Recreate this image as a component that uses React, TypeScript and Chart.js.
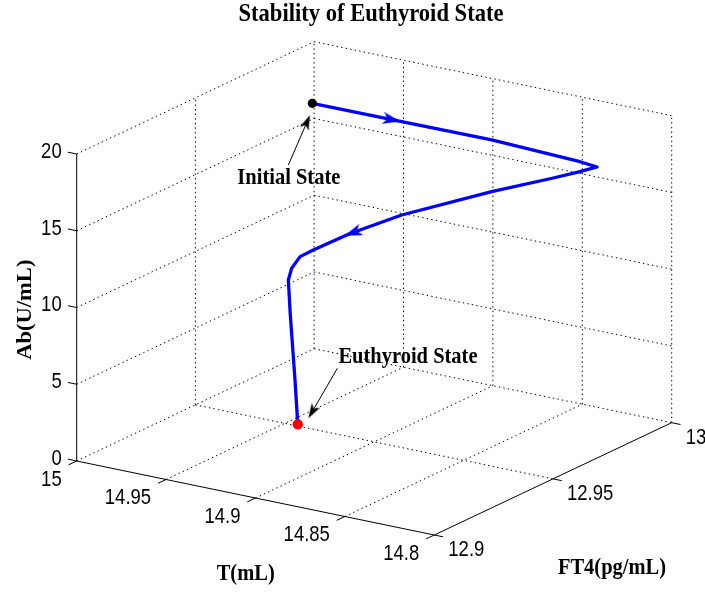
import React, { useEffect, useRef } from "react";
import { Chart, registerables } from "chart.js";

Chart.register(...registerables);

// ---------------- data ----------------
const T_TICKS = [15, 14.95, 14.9, 14.85, 14.8];
const T_TICK_LABELS = ["15", "14.95", "14.9", "14.85", "14.8"];
const FT4_TICKS = [12.9, 12.95, 13];
const FT4_TICK_LABELS = ["12.9", "12.95", "13"];
const AB_TICKS = [0, 5, 10, 15, 20];
const AB_TICK_LABELS = ["0", "5", "10", "15", "20"];

// trajectory (T, FT4, Ab) from the initial state to the euthyroid state
const trajT = [14.95, 14.9064, 14.8627, 14.8193, 14.8121, 14.8187, 14.8289, 14.8505, 14.8789, 14.8904, 14.894, 14.901, 14.9044, 14.9069, 14.9087, 14.9122, 14.9131, 14.9123, 14.9126];
const trajFT4 = [12.9616, 12.9664, 12.9714, 12.9759, 12.9777, 12.9754, 12.9719, 12.9622, 12.9457, 12.9368, 12.9339, 12.9251, 12.9221, 12.9204, 12.9204, 12.9238, 12.9258, 12.9259, 12.9273];
const trajAb = [20, 19.5, 19, 18.3, 18, 17.7, 17.3, 16.6, 15.6, 15, 14.8, 14.3, 14, 13.3, 12.5, 10, 7, 5.5, 2.5];

// direction arrows along the trajectory: segment index and fraction within it
const ARROW_SEGMENTS = [0, 9];
const ARROW_FRACTIONS = [0.888, 0.53];

const TITLE = "Stability of Euthyroid State";
const T_LABEL = "T(mL)";
const FT4_LABEL = "FT4(pg/mL)";
const AB_LABEL = "Ab(U/mL)";
const INITIAL_LABEL = "Initial State";
const EUTHYROID_LABEL = "Euthyroid State";

// ---------------- layout ----------------
const W = 705;
const H = 592;
const ORIGIN = { x: 76.7, y: 461 }; // (T=15, FT4=12.9, Ab=0)
const T_SPAN = { x: 357.6, y: 74 };
const F_SPAN = { x: 237.4, y: -112.3 };
const AB_SPAN = 307;
const TICK_LEN = 9;

const tMax = Math.max(...T_TICKS);
const tMin = Math.min(...T_TICKS);
const fMax = Math.max(...FT4_TICKS);
const fMin = Math.min(...FT4_TICKS);
const abMax = Math.max(...AB_TICKS);
const abMin = Math.min(...AB_TICKS);

function project(t: number, f: number, ab: number) {
  const a = (tMax - t) / (tMax - tMin);
  const b = (f - fMin) / (fMax - fMin);
  const c = (ab - abMin) / (abMax - abMin);
  return {
    x: ORIGIN.x + a * T_SPAN.x + b * F_SPAN.x,
    y: ORIGIN.y + a * T_SPAN.y + b * F_SPAN.y - c * AB_SPAN,
  };
}

function unit(v: { x: number; y: number }) {
  const l = Math.hypot(v.x, v.y);
  return { x: v.x / l, y: v.y / l };
}

function makeArrowHead(color: string, len: number, halfW: number, notch: number) {
  const c = document.createElement("canvas");
  const s = Math.ceil(len * 2 + 4);
  c.width = s;
  c.height = s;
  const g = c.getContext("2d")!;
  const cx = s / 2;
  const cy = s / 2;
  g.fillStyle = color;
  g.beginPath();
  g.moveTo(cx + len / 2, cy);
  g.lineTo(cx - len / 2, cy - halfW);
  g.lineTo(cx - len / 2 + notch, cy);
  g.lineTo(cx - len / 2, cy + halfW);
  g.closePath();
  g.fill();
  return c;
}

const TICK_FONT = '18.5px "Liberation Sans", Arial, Helvetica, sans-serif';
const LABEL_FONT = 'bold 20.5px "Liberation Serif", "Times New Roman", serif';
const TITLE_FONT = 'bold 22.6px "Liberation Serif", "Times New Roman", serif';
const SY = 1.1;

export default function App() {
  const ref = useRef<HTMLCanvasElement>(null);

  useEffect(() => {
    const canvas = ref.current!;
    const blueHead = makeArrowHead("#0000ff", 18, 6, 5);
    const blackHead = makeArrowHead("#000000", 15, 4.8, 4);

    const layers: any[] = []; // bottom to top
    const dotted = { borderColor: "#000000", borderWidth: 1, borderDash: [1.4, 3.2] };
    const solid = { borderColor: "#000000", borderWidth: 1, borderDash: [] };
    const seg = (p: any, q: any, st: any) =>
      layers.push({ data: [p, q], showLine: true, pointRadius: 0, fill: false, ...st });

    // floor grid (Ab = min)
    T_TICKS.forEach((t) => {
      if (t !== tMin) seg(project(t, fMin, abMin), project(t, fMax, abMin), dotted);
    });
    FT4_TICKS.forEach((f) => {
      if (f !== fMin) seg(project(tMax, f, abMin), project(tMin, f, abMin), dotted);
    });
    // left back wall (T = max)
    FT4_TICKS.forEach((f) => {
      if (f !== fMin) seg(project(tMax, f, abMin), project(tMax, f, abMax), dotted);
    });
    AB_TICKS.forEach((z) => {
      if (z !== abMin) seg(project(tMax, fMin, z), project(tMax, fMax, z), dotted);
    });
    // right back wall (FT4 = max)
    T_TICKS.forEach((t) => {
      if (t !== tMax) seg(project(t, fMax, abMin), project(t, fMax, abMax), dotted);
    });
    AB_TICKS.forEach((z) => {
      if (z !== abMin) seg(project(tMax, fMax, z), project(tMin, fMax, z), dotted);
    });

    // axes
    seg(project(tMax, fMin, abMin), project(tMin, fMin, abMin), solid);
    seg(project(tMin, fMin, abMin), project(tMin, fMax, abMin), solid);
    seg(project(tMax, fMin, abMin), project(tMax, fMin, abMax), solid);

    // ticks
    const uT = unit(T_SPAN);
    const uF = unit(F_SPAN);
    AB_TICKS.forEach((z) => {
      const p = project(tMax, fMin, z);
      seg(p, { x: p.x - uT.x * TICK_LEN, y: p.y - uT.y * TICK_LEN }, solid);
    });
    T_TICKS.forEach((t) => {
      const p = project(t, fMin, abMin);
      seg(p, { x: p.x - uF.x * TICK_LEN, y: p.y - uF.y * TICK_LEN }, solid);
    });
    FT4_TICKS.forEach((f) => {
      const p = project(tMin, f, abMin);
      seg(p, { x: p.x + uT.x * TICK_LEN, y: p.y + uT.y * TICK_LEN }, solid);
    });

    // trajectory
    const traj = trajT.map((t, i) => project(t, trajFT4[i], trajAb[i]));
    layers.push({
      data: traj,
      showLine: true,
      pointRadius: 0,
      borderColor: "#0000ff",
      borderWidth: 3.3,
      borderJoinStyle: "round",
      borderCapStyle: "round",
      fill: false,
    });

    // direction arrows
    const arrowPts: any[] = [];
    const arrowRot: number[] = [];
    ARROW_SEGMENTS.forEach((s, i) => {
      const p = traj[s];
      const q = traj[s + 1];
      const fr = ARROW_FRACTIONS[i];
      arrowPts.push({ x: p.x + (q.x - p.x) * fr, y: p.y + (q.y - p.y) * fr });
      arrowRot.push((Math.atan2(q.y - p.y, q.x - p.x) * 180) / Math.PI);
    });
    layers.push({
      data: arrowPts,
      showLine: false,
      pointStyle: blueHead,
      pointRadius: 8,
      rotation: arrowRot,
    });

    // annotation arrows
    const start = traj[0];
    const end = traj[traj.length - 1];
    const annots = [
      { anchor: start, tip: { x: -2.3, y: 11.7 }, tail: { x: -24, y: 61.7 } },
      { anchor: end, tip: { x: 10.6, y: -6 }, tail: { x: 39.6, y: -56 } },
    ];
    const headPts: any[] = [];
    const headRot: number[] = [];
    annots.forEach((a) => {
      const tip = { x: a.anchor.x + a.tip.x, y: a.anchor.y + a.tip.y };
      const tail = { x: a.anchor.x + a.tail.x, y: a.anchor.y + a.tail.y };
      const u = unit({ x: tip.x - tail.x, y: tip.y - tail.y });
      seg(tail, { x: tip.x - u.x * 6, y: tip.y - u.y * 6 }, solid);
      headPts.push({ x: tip.x - u.x * 7.5, y: tip.y - u.y * 7.5 });
      headRot.push((Math.atan2(u.y, u.x) * 180) / Math.PI);
    });
    layers.push({
      data: headPts,
      showLine: false,
      pointStyle: blackHead,
      pointRadius: 8,
      rotation: headRot,
    });

    // state markers
    layers.push({
      data: [start],
      showLine: false,
      pointStyle: "circle",
      pointRadius: 4.6,
      backgroundColor: "#000000",
      borderColor: "#000000",
      borderWidth: 0,
    });
    layers.push({
      data: [end],
      showLine: false,
      pointStyle: "circle",
      pointRadius: 5.2,
      backgroundColor: "#ff0000",
      borderColor: "#ff0000",
      borderWidth: 0,
    });

    const datasets = layers.slice().reverse();

    const textPlugin = {
      id: "texts3d",
      afterDraw(chart: any) {
        const ctx = chart.ctx as CanvasRenderingContext2D;
        const xs = chart.scales.x;
        const ys = chart.scales.y;
        const px = (p: { x: number; y: number }) => ({ x: xs.getPixelForValue(p.x), y: ys.getPixelForValue(p.y) });
        const put = (
          text: string,
          x: number,
          y: number,
          font: string,
          align: CanvasTextAlign,
          baseline: CanvasTextBaseline,
          sy: number,
          rotate = false
        ) => {
          ctx.save();
          ctx.translate(x, y);
          if (rotate) {
            ctx.rotate(-Math.PI / 2);
            ctx.scale(sy, 1);
          } else {
            ctx.scale(1, sy);
          }
          ctx.font = font;
          ctx.fillStyle = "#000000";
          ctx.textAlign = align;
          ctx.textBaseline = baseline;
          ctx.fillText(text, 0, 0);
          ctx.restore();
        };
        AB_TICKS.forEach((z, i) => {
          const p = px(project(tMax, fMin, z));
          put(AB_TICK_LABELS[i], p.x - 15, p.y - 2, TICK_FONT, "right", "middle", 1.15);
        });
        T_TICKS.forEach((t, i) => {
          const p = px(project(t, fMin, abMin));
          put(T_TICK_LABELS[i], p.x - 15, p.y + 18.7, TICK_FONT, "right", "middle", 1.15);
        });
        FT4_TICKS.forEach((f, i) => {
          const p = px(project(tMin, f, abMin));
          put(FT4_TICK_LABELS[i], p.x + 14, p.y + 15, TICK_FONT, "left", "middle", 1.15);
        });
        put(TITLE, 371, 20.7, TITLE_FONT, "center", "alphabetic", SY);
        put(T_LABEL, 245.7, 580, LABEL_FONT, "center", "alphabetic", SY);
        put(FT4_LABEL, 612, 574, LABEL_FONT, "center", "alphabetic", SY);
        put(AB_LABEL, 30.5, 309.7, LABEL_FONT, "center", "alphabetic", SY, true);
        const s = px(start);
        const e = px(end);
        put(INITIAL_LABEL, s.x - 23.5, s.y + 81, LABEL_FONT, "center", "alphabetic", SY);
        put(EUTHYROID_LABEL, e.x + 40.6, e.y - 61.6, LABEL_FONT, "left", "alphabetic", SY);
      },
    };

    const chart = new Chart(canvas, {
      type: "scatter",
      data: { datasets },
      options: {
        animation: false,
        responsive: false,
        devicePixelRatio: 1,
        events: [],
        layout: { padding: 0, autoPadding: false },
        plugins: { legend: { display: false }, title: { display: false }, tooltip: { enabled: false } },
        scales: {
          x: { type: "linear", min: 0, max: W, display: false },
          y: { type: "linear", min: 0, max: H, reverse: true, display: false },
        },
      },
      plugins: [textPlugin],
    } as any);

    return () => chart.destroy();
  }, []);

  return (
    <div style={{ position: "absolute", left: 0, top: 0, width: W, height: H, background: "#ffffff" }}>
      <canvas ref={ref} width={W} height={H} style={{ width: W, height: H, display: "block" }} />
    </div>
  );
}
